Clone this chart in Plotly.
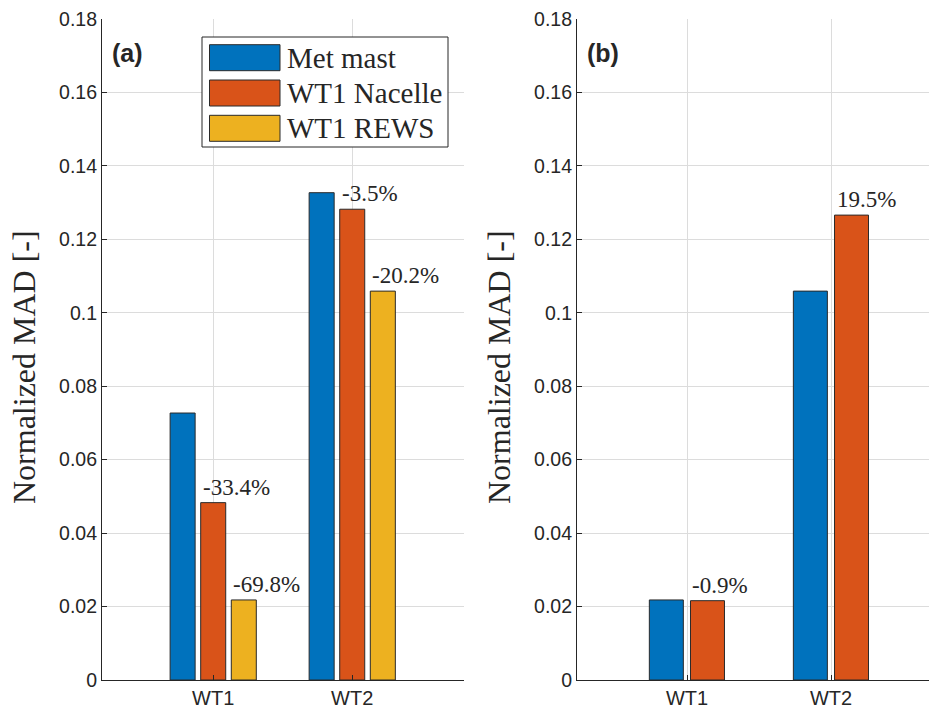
import plotly.graph_objects as go

# ---------------- data ----------------
categories = ["WT1", "WT2"]
series_names = ["Met mast", "WT1 Nacelle", "WT1 REWS"]

a_met = [0.0727, 0.1327]
a_nacelle = [0.0483, 0.1282]
a_rews = [0.0218, 0.1059]
a_nacelle_pct = ["-33.4%", "-3.5%"]
a_rews_pct = ["-69.8%", "-20.2%"]

b_met = [0.0218, 0.1059]
b_nacelle = [0.0216, 0.1266]
b_nacelle_pct = ["-0.9%", "19.5%"]

y_ticks = [0, 0.02, 0.04, 0.06, 0.08, 0.1, 0.12, 0.14, 0.16, 0.18]
y_tick_text = ["0", "0.02", "0.04", "0.06", "0.08", "0.1", "0.12", "0.14", "0.16", "0.18"]

# ---------------- styles ----------------
colors = ["#0072BD", "#D95319", "#EDB120"]
edge = "#2a2a2a"
txt = "#262626"
serif = "Liberation Serif, Times New Roman, serif"
sans = "Liberation Sans, Arial, sans-serif"

W, H = 929, 713
ML, MR, MT, MB = 102, 0, 19, 33
PW, PH = W - ML - MR, H - MT - MB


def px(x):
    return (x - ML) / PW


def py(y):
    return (H - MB - y) / PH


fig = go.Figure()

# left panel: bar width / offsets in category units
wa = 0.18
offs_a = [-0.31, -0.09, 0.13]
for vals, name, c, o in zip([a_met, a_nacelle, a_rews], series_names, colors, offs_a):
    fig.add_trace(go.Bar(x=categories, y=vals, name=name, marker=dict(color=c, line=dict(color=edge, width=1)),
                         width=wa, offset=o, xaxis="x", yaxis="y", showlegend=False))

wb = 0.236
offs_b = [-0.2617, 0.024]
for vals, name, c, o in zip([b_met, b_nacelle], series_names[:2], colors[:2], offs_b):
    fig.add_trace(go.Bar(x=categories, y=vals, name=name, marker=dict(color=c, line=dict(color=edge, width=1)),
                         width=wb, offset=o, xaxis="x2", yaxis="y2", showlegend=False))

annotations = []
pct_font = dict(family=serif, size=23, color=txt)
for i, (v, t) in enumerate(zip(a_nacelle, a_nacelle_pct)):
    annotations.append(dict(x=i + offs_a[1], y=v, xref="x", yref="y", text=t, showarrow=False,
                            xanchor="left", yanchor="bottom", yshift=1, font=pct_font))
for i, (v, t) in enumerate(zip(a_rews, a_rews_pct)):
    annotations.append(dict(x=i + offs_a[2], y=v, xref="x", yref="y", text=t, showarrow=False,
                            xanchor="left", yanchor="bottom", yshift=1, font=pct_font))
for i, (v, t) in enumerate(zip(b_nacelle, b_nacelle_pct)):
    annotations.append(dict(x=i + offs_b[1], y=v, xref="x2", yref="y2", text=t, showarrow=False,
                            xanchor="left", yanchor="bottom", yshift=1, font=pct_font))

# panel labels
annotations.append(dict(x=px(110), y=py(53), xref="paper", yref="paper", text="<b>(a)</b>", showarrow=False,
                        xanchor="left", yanchor="middle", font=dict(family=sans, size=25, color=txt)))
annotations.append(dict(x=px(585), y=py(53), xref="paper", yref="paper", text="<b>(b)</b>", showarrow=False,
                        xanchor="left", yanchor="middle", font=dict(family=sans, size=25, color=txt)))

# y-axis titles
for xc in [24, 499]:
    annotations.append(dict(x=px(xc), y=py(367), xref="paper", yref="paper", text="Normalized MAD [-]",
                            showarrow=False, textangle=-90, xanchor="center", yanchor="middle",
                            font=dict(family=serif, size=32, color=txt)))

# custom legend
shapes = [dict(type="rect", xref="paper", yref="paper", x0=px(202), x1=px(448), y0=py(147), y1=py(37),
               fillcolor="white", line=dict(color=txt, width=1), layer="above")]
row_centers = [57.7, 93.0, 128.3]
for name, c, yc in zip(series_names, colors, row_centers):
    shapes.append(dict(type="rect", xref="paper", yref="paper", x0=px(209.5), x1=px(280),
                       y0=py(yc + 13), y1=py(yc - 13), fillcolor=c, line=dict(color=edge, width=1), layer="above"))
    annotations.append(dict(x=px(285), y=py(yc), xref="paper", yref="paper", text=name, showarrow=False,
                            xanchor="left", yanchor="middle", font=dict(family=serif, size=29, color=txt)))

axis_common = dict(showline=True, linecolor=txt, linewidth=1.2, ticks="inside", ticklen=5, tickcolor=txt,
                   showgrid=True, gridcolor="#DCDCDC", gridwidth=1.3, zeroline=False, mirror=False)

fig.update_layout(
    width=W, height=H,
    margin=dict(l=ML, r=MR, t=MT, b=MB, pad=0),
    paper_bgcolor="white", plot_bgcolor="white",
    barmode="overlay",
    xaxis=dict(domain=[0, px(464)], range=[-0.8, 1.804], type="category", tickfont=dict(family=sans, size=20, color=txt),
               **axis_common),
    yaxis=dict(domain=[0, 1], range=[0, 0.18], tickvals=y_ticks, ticktext=y_tick_text,
               tickfont=dict(family=sans, size=19.5, color=txt), anchor="x", **axis_common),
    xaxis2=dict(domain=[px(577), 1], range=[-0.764, 1.68], type="category", anchor="y2",
                tickfont=dict(family=sans, size=20, color=txt), **axis_common),
    yaxis2=dict(domain=[0, 1], range=[0, 0.18], tickvals=y_ticks, ticktext=y_tick_text, anchor="x2",
                tickfont=dict(family=sans, size=19.5, color=txt), **axis_common),
    annotations=annotations,
    shapes=shapes,
    showlegend=False,
)

fig.write_html("out.html")
